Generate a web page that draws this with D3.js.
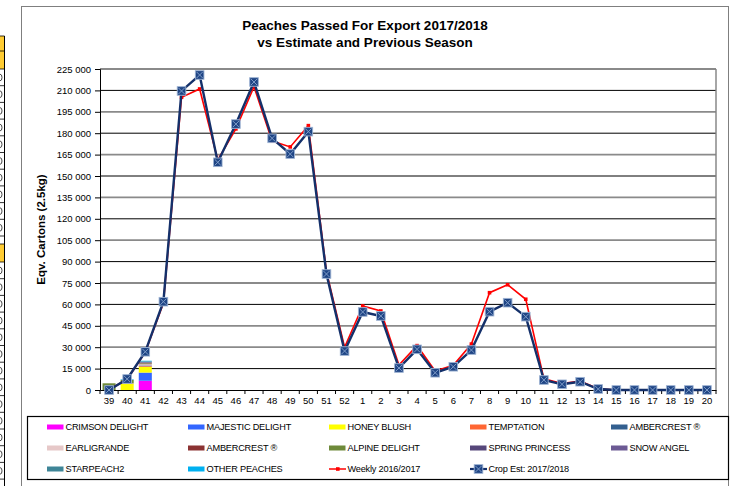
<!DOCTYPE html>
<html>
<head>
<meta charset="utf-8">
<script src="https://cdn.jsdelivr.net/npm/d3@7"></script>
<style>
  html, body { margin: 0; padding: 0; background: #fff; }
  svg { display: block; font-family: Arial, "Liberation Sans", sans-serif; }
</style>
</head>
<body>
<svg id="chart" width="731" height="486"></svg>
<script>
// ---------- DATA ----------
const weeks = ["39","40","41","42","43","44","45","46","47","48","49","50","51","52",
  "1","2","3","4","5","6","7","8","9","10","11","12","13","14","15","16","17","18","19","20"];

const yTicks = [0,15000,30000,45000,60000,75000,90000,105000,120000,135000,150000,165000,180000,195000,210000,225000];

const cropEst = [0, 7700, 26800, 61900, 209600, 220800, 159600, 186400, 215900, 176400, 165400, 181100, 81300, 27300,
  54700, 51900, 15400, 28500, 12100, 16300, 28000, 54900, 61200, 51400, 7000, 4000, 5800, 700, 0, 0, 0, 0, 0, 0];

const weekly1617 = [300, 7500, 26500, 61000, 205200, 211000, 161200, 183000, 212600, 174500, 170400, 185300, 83000, 30000,
  58900, 55400, 17500, 31100, 13300, 17300, 32200, 68200, 73800, 63600, 7800, 4500, 6200, 800, 0, 0, 0, 0, 0, 0];

// passed per variety (only weeks 39-41 have volumes so far)
const barWeeks = ["39","40","41"];
const crimsonDelight  = [0, 0, 6500];
const majesticDelight = [0, 0, 5700];
const honeyBlush      = [0, 4300, 4000];
const temptation      = [0, 0, 500];
const ambercrest      = [0, 0, 500];
const earligrande     = [0, 300, 900];
const ambercrest2     = [0, 200, 500];
const alpineDelight   = [4700, 2200, 400];
const springPrincess  = [0, 0, 400];
const snowAngel       = [0, 0, 300];
const starpeach2      = [0, 200, 400];
const otherPeaches    = [0, 300, 400];

const varietyNames = ["CRIMSON DELIGHT","MAJESTIC DELIGHT","HONEY BLUSH","TEMPTATION","AMBERCREST ®",
  "EARLIGRANDE","AMBERCREST ®","ALPINE DELIGHT","SPRING PRINCESS","SNOW ANGEL","STARPEACH2","OTHER PEACHES"];
const varietyValues = [crimsonDelight, majesticDelight, honeyBlush, temptation, ambercrest,
  earligrande, ambercrest2, alpineDelight, springPrincess, snowAngel, starpeach2, otherPeaches];
const varietyColors = ["#FF00FF","#3366FF","#FFFF00","#FF6633","#335F8F",
  "#E6C8C8","#8B3232","#6E8A3A","#56477A","#6C5A94","#3E8597","#00B0F0"];

const titleLines = ["Peaches Passed For Export 2017/2018", "vs Estimate and Previous Season"];
const yTitle = "Eqv. Cartons (2.5kg)";
const weeklyName = "Weekly 2016/2017";
const cropName = "Crop Est: 2017/2018";

// ---------- LAYOUT ----------
const svg = d3.select("#chart");
const L = 100, R = 716, T = 69, B = 390;

// spreadsheet strip on the far left (decorative cells)
const strip = svg.append("g");
strip.append("rect").attr("x", 0).attr("y", 36).attr("width", 4.5).attr("height", 33).attr("fill", "#FFCC33");
strip.append("rect").attr("x", 0).attr("y", 244).attr("width", 4.5).attr("height", 18).attr("fill", "#FFCC33");
strip.append("line").attr("x1", 4.5).attr("x2", 4.5).attr("y1", 36).attr("y2", 486).attr("stroke", "#000").attr("stroke-width", 1);
const stripLines = [36, 51];
for (let yy = 69; yy < 240; yy += 16.7) stripLines.push(yy);
stripLines.push(244, 262);
for (let yy = 278.7; yy < 486; yy += 16.7) stripLines.push(yy);
stripLines.forEach(yy => strip.append("line").attr("x1", 0).attr("x2", 4.5).attr("y1", yy).attr("y2", yy)
  .attr("stroke", "#000").attr("stroke-width", 0.8));
stripLines.forEach(yy => {
  if ((yy >= 69 && yy < 225) || (yy >= 262 && yy < 470)) {
    const cy = yy + 8.5;
    strip.append("path").attr("d", `M0,${cy - 3.3}A2,3.3 0 0 1 0,${cy + 3.3}`)
      .attr("fill", "none").attr("stroke", "#333").attr("stroke-width", 0.9);
  }
});

// outer chart frame
svg.append("rect").attr("x", 21.5).attr("y", 6.5).attr("width", 707).attr("height", 500)
  .attr("fill", "none").attr("stroke", "#7f7f7f").attr("stroke-width", 1);

// title
svg.append("text").attr("x", 365).attr("y", 30).attr("text-anchor", "middle")
  .attr("font-size", 13.5).attr("font-weight", "bold").text(titleLines[0]);
svg.append("text").attr("x", 365).attr("y", 47).attr("text-anchor", "middle")
  .attr("font-size", 13.5).attr("font-weight", "bold").text(titleLines[1]);

// scales
const x = d3.scaleBand().domain(weeks).range([L, R]).padding(0);
const y = d3.scaleLinear().domain([0, 225000]).range([B, T]);
const bw = x.bandwidth();
const cx = w => x(w) + bw / 2;

// gridlines (alternating grey / black look of the original)
const greyLines = new Set([225000, 195000, 165000, 135000, 105000, 75000, 45000, 30000]);
svg.append("g").selectAll("line").data(yTicks.filter(v => v > 0)).join("line")
  .attr("x1", L).attr("x2", R).attr("y1", d => y(d)).attr("y2", d => y(d))
  .attr("stroke", d => greyLines.has(d) ? "#8a8a8a" : "#000")
  .attr("stroke-width", d => greyLines.has(d) ? 1.8 : 1);
// right border of plot
svg.append("line").attr("x1", R).attr("x2", R).attr("y1", T).attr("y2", B).attr("stroke", "#808080").attr("stroke-width", 1.4);

// y axis
const fmt = d3.formatLocale({ decimal: ".", thousands: " ", grouping: [3], currency: ["", ""] }).format(",");
const yAxis = d3.axisLeft(y).tickValues(yTicks).tickFormat(fmt).tickSizeOuter(0).tickSize(5).tickPadding(4);
const gy = svg.append("g").attr("transform", `translate(${L},0)`).call(yAxis);
gy.select(".domain").attr("stroke", "#000");
gy.selectAll("text").attr("font-size", 9.5).attr("font-family", "Arial, 'Liberation Sans', sans-serif").attr("fill", "#000");

// y title
svg.append("text").attr("transform", `translate(44.5,${(T + B) / 2}) rotate(-90)`)
  .attr("text-anchor", "middle").attr("font-size", 11.5).attr("font-weight", "bold").text(yTitle);

// x axis
const xAxis = d3.axisBottom(x).tickSize(0).tickPadding(7).tickSizeOuter(0);
const gx = svg.append("g").attr("transform", `translate(0,${B})`).call(xAxis);
gx.select(".domain").attr("stroke", "#000");
gx.selectAll("text").attr("font-size", 9.5).attr("font-family", "Arial, 'Liberation Sans', sans-serif").attr("fill", "#000");
// tick marks between categories
svg.append("g").selectAll("line").data(weeks.concat(["end"])).join("line")
  .attr("x1", (d, i) => i < weeks.length ? x(d) : R).attr("x2", (d, i) => i < weeks.length ? x(d) : R)
  .attr("y1", B).attr("y2", B + 4).attr("stroke", "#000");

// stacked bars
const barRows = barWeeks.map((w, i) => {
  const r = { week: w };
  varietyNames.forEach((n, k) => r["v" + k] = varietyValues[k][i]);
  return r;
});
const keys = varietyNames.map((n, k) => "v" + k);
const stacked = d3.stack().keys(keys)(barRows);
const barW = bw * 0.72;
svg.append("g").selectAll("g").data(stacked).join("g")
  .attr("fill", (d, k) => varietyColors[k])
  .selectAll("rect").data(d => d).join("rect")
  .attr("x", d => cx(d.data.week) - barW / 2)
  .attr("width", barW)
  .attr("y", d => y(d[1]))
  .attr("height", d => Math.max(0, y(d[0]) - y(d[1])));

// weekly 2016/2017 red line
const line = d3.line().x((d, i) => cx(weeks[i])).y(d => y(d));
svg.append("path").datum(weekly1617).attr("d", line).attr("fill", "none")
  .attr("stroke", "#FF0000").attr("stroke-width", 1.6);
svg.append("g").selectAll("rect").data(weekly1617).join("rect")
  .attr("x", (d, i) => cx(weeks[i]) - 1.8).attr("y", d => y(d) - 1.8)
  .attr("width", 3.6).attr("height", 3.6).attr("fill", "#FF0000");

// crop estimate navy line
svg.append("path").datum(cropEst).attr("d", line).attr("fill", "none")
  .attr("stroke", "#14306A").attr("stroke-width", 2.4);
function cropMarker(g, px, py) {
  const s = 4.3;
  g.append("rect").attr("x", px - s).attr("y", py - s).attr("width", 2 * s).attr("height", 2 * s)
    .attr("fill", "#1F4585").attr("stroke", "#9DB3D3").attr("stroke-width", 0.9);
  g.append("path").attr("d", `M${px - s + 1.2},${py - s + 1.2}L${px + s - 1.2},${py + s - 1.2}M${px + s - 1.2},${py - s + 1.2}L${px - s + 1.2},${py + s - 1.2}`)
    .attr("stroke", "#7F9CC8").attr("stroke-width", 1);
}
const mg = svg.append("g");
cropEst.forEach((v, i) => cropMarker(mg, cx(weeks[i]), y(v)));

// legend
svg.append("rect").attr("x", 27.5).attr("y", 416.5).attr("width", 701).attr("height", 63)
  .attr("fill", "none").attr("stroke", "#000").attr("stroke-width", 1.2);
const colX = [47, 188, 329, 470, 611];
const rowY = [427, 448, 469];
const legendItems = varietyNames.map((n, k) => ({ name: n, type: "bar", color: varietyColors[k] }))
  .concat([{ name: weeklyName, type: "weekly" }, { name: cropName, type: "crop" }]);
const lg = svg.append("g");
legendItems.forEach((it, i) => {
  const lx = colX[i % 5], ly = rowY[Math.floor(i / 5)];
  if (it.type === "bar") {
    lg.append("rect").attr("x", lx).attr("y", ly - 2.5).attr("width", 16.5).attr("height", 5).attr("fill", it.color);
  } else if (it.type === "weekly") {
    lg.append("line").attr("x1", lx).attr("x2", lx + 17).attr("y1", ly).attr("y2", ly).attr("stroke", "#FF0000").attr("stroke-width", 1.5);
    lg.append("rect").attr("x", lx + 7).attr("y", ly - 1.8).attr("width", 3.6).attr("height", 3.6).attr("fill", "#FF0000");
  } else {
    lg.append("line").attr("x1", lx).attr("x2", lx + 17).attr("y1", ly).attr("y2", ly).attr("stroke", "#14306A").attr("stroke-width", 2.2);
    cropMarker(lg, lx + 8.5, ly);
  }
  lg.append("text").attr("x", lx + 18.5).attr("y", ly + 3.4).attr("font-size", 9.2)
    .attr("letter-spacing", -0.2).text(it.name);
});
</script>
</body>
</html>
